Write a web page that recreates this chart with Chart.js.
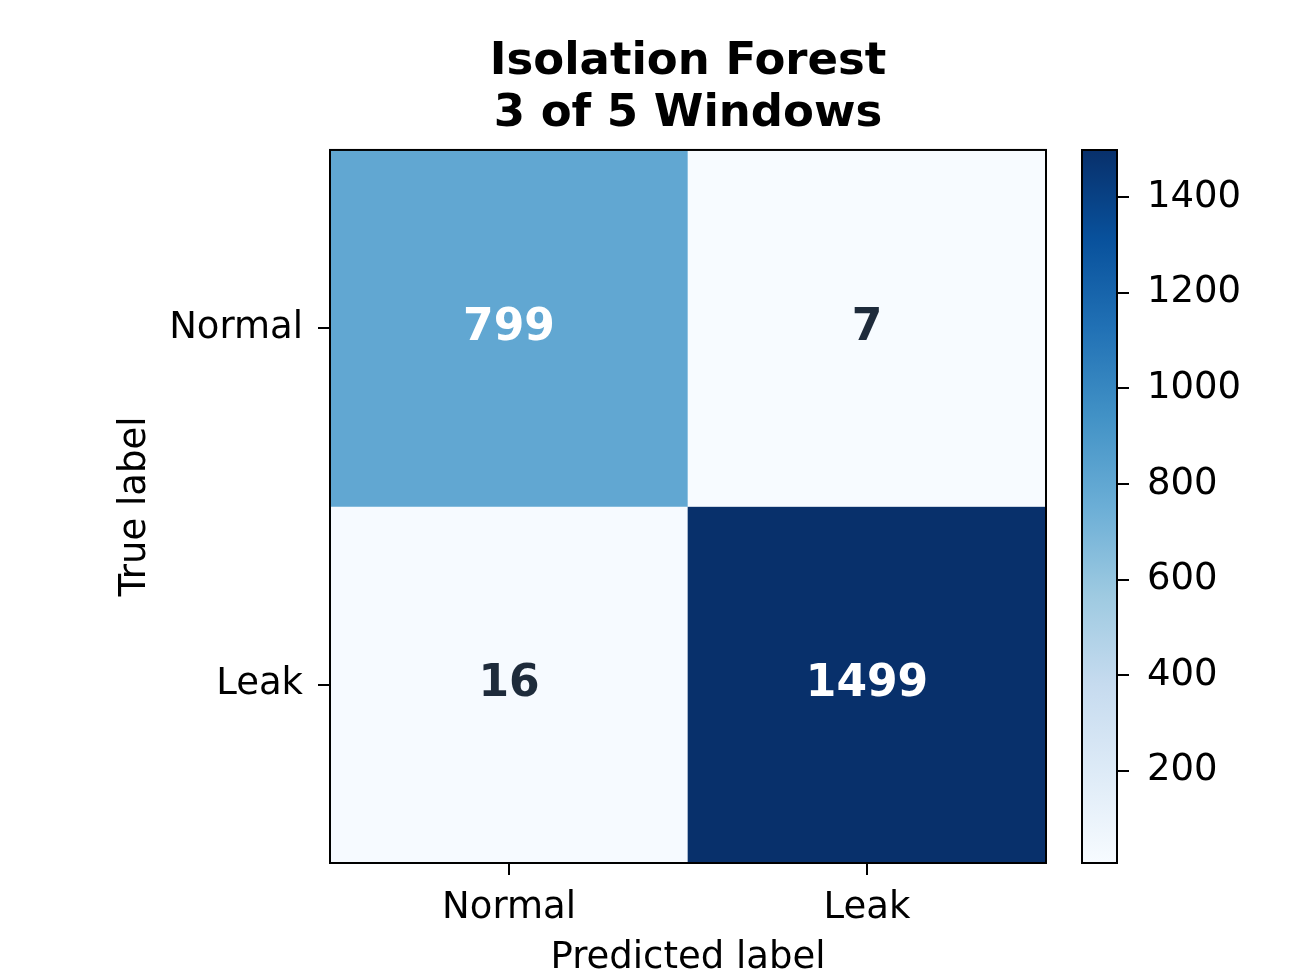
<!DOCTYPE html>
<html>
<head>
<meta charset="utf-8">
<script src="https://cdn.jsdelivr.net/npm/chart.js@4.4.0/dist/chart.umd.min.js"></script>
<style>
  html, body { margin: 0; padding: 0; background: #fff; overflow: hidden; }
  #wrap { position: relative; width: 1308px; height: 969px; }
  canvas { position: absolute; top: 0; }
</style>
</head>
<body>
<div id="wrap">
  <canvas id="cm" width="1308" height="1000" style="left:0"></canvas>
  <canvas id="cbar" width="238" height="1000" style="left:1070px"></canvas>
</div>
<script>
// confusion matrix data
const classes = ["Normal", "Leak"];
const row_normal = [799, 7];
const row_leak = [16, 1499];
const rows = [row_normal, row_leak];
const cbarTicks = [200, 400, 600, 800, 1000, 1200, 1400];
const titleLines = ["Isolation Forest", "3 of 5 Windows"];

const FONT = "'DejaVu Sans', sans-serif";
const vmin = Math.min(...rows.flat());
const vmax = Math.max(...rows.flat());

// matplotlib "Blues"
const blues = ["#f7fbff", "#deebf7", "#c6dbef", "#9ecae1", "#6baed6", "#4292c6", "#2171b5", "#08519c", "#08306b"];
function hex2rgb(h) { return [1, 3, 5].map(i => parseInt(h.substr(i, 2), 16)); }
function bluesAt(t) {
  t = Math.max(0, Math.min(1, t));
  const p = t * (blues.length - 1);
  const i = Math.min(Math.floor(p), blues.length - 2);
  const f = p - i;
  const a = hex2rgb(blues[i]), b = hex2rgb(blues[i + 1]);
  return "rgb(" + a.map((v, k) => Math.round(v + (b[k] - v) * f)).join(",") + ")";
}
function colorFor(v) { return bluesAt((v - vmin) / (vmax - vmin)); }

// black frame around the plot area
const framePlugin = {
  id: "frame",
  afterDraw(chart) {
    const a = chart.chartArea, ctx = chart.ctx;
    ctx.save();
    ctx.strokeStyle = "#000";
    ctx.lineWidth = 2;
    ctx.strokeRect(a.left, a.top, a.right - a.left, a.bottom - a.top);
    ctx.restore();
  }
};

// numbers in the cells
const cellText = {
  id: "cellText",
  afterDatasetsDraw(chart) {
    const ctx = chart.ctx;
    const thresh = (vmin + vmax) / 2;
    ctx.save();
    ctx.font = "bold 44px " + FONT;
    ctx.textAlign = "center";
    ctx.textBaseline = "middle";
    chart.data.datasets.forEach((ds, i) => {
      chart.getDatasetMeta(i).data.forEach((el, j) => {
        const v = rows[i][j];
        ctx.fillStyle = v > thresh ? "#ffffff" : "#1e2b3b";
        ctx.fillText(String(v), el.x, (el.y + el.base) / 2);
      });
    });
    ctx.restore();
  }
};

new Chart(document.getElementById("cm"), {
  type: "bar",
  data: {
    labels: classes,
    datasets: rows.map((r, i) => ({
      label: classes[i],
      data: r.map(() => [i - 0.5, i + 0.5]),
      backgroundColor: r.map(colorFor),
      borderWidth: 0,
      grouped: false,
      categoryPercentage: 1,
      barPercentage: 1
    }))
  },
  options: {
    responsive: false,
    animation: false,
    layout: { padding: { top: 0, right: 262, left: 0, bottom: 0 } },
    plugins: {
      legend: { display: false },
      tooltip: { enabled: false },
      title: {
        display: true,
        text: titleLines,
        fullSize: false,
        color: "#000",
        font: { family: FONT, size: 45, weight: "bold", lineHeight: 1.155 },
        padding: { top: 36, bottom: 10 }
      }
    },
    scales: {
      x: {
        type: "category",
        offset: true,
        grid: { display: true, drawOnChartArea: false, drawTicks: true, tickLength: 12, offset: false, color: "#000", lineWidth: 2 },
        border: { display: true, color: "#000", width: 2 },
        ticks: { color: "#000", font: { family: FONT, size: 37 }, padding: 11, maxRotation: 0 },
        title: { display: true, text: "Predicted label", color: "#000", font: { family: FONT, size: 37, lineHeight: 1.2 }, padding: { top: 0, bottom: 19 } },
        afterFit(s) { s.height = 137; }
      },
      y: {
        type: "linear",
        min: -0.5,
        max: 1.5,
        reverse: true,
        afterBuildTicks(s) { s.ticks = classes.map((c, i) => ({ value: i })); },
        grid: { display: true, drawOnChartArea: false, drawTicks: true, tickLength: 12, color: "#000", lineWidth: 2 },
        border: { display: true, color: "#000", width: 2 },
        ticks: { color: "#000", font: { family: FONT, size: 37 }, padding: 15, callback: v => classes[v] },
        title: { display: true, text: "True label", color: "#000", font: { family: FONT, size: 37, lineHeight: 1.2 }, padding: { top: 113, bottom: 0 } },
        afterFit(s) { s.width = 330; }
      }
    }
  },
  plugins: [framePlugin, cellText]
});

// colour bar
new Chart(document.getElementById("cbar"), {
  type: "bar",
  data: {
    labels: [""],
    datasets: [{
      data: [[vmin, vmax]],
      borderWidth: 0,
      categoryPercentage: 1,
      barPercentage: 1,
      backgroundColor(ctx) {
        const a = ctx.chart.chartArea;
        if (!a) return blues[4];
        const g = ctx.chart.ctx.createLinearGradient(0, a.bottom, 0, a.top);
        blues.forEach((c, i) => g.addColorStop(i / (blues.length - 1), c));
        return g;
      }
    }]
  },
  options: {
    responsive: false,
    animation: false,
    layout: { padding: { top: 150, left: 12, right: 0, bottom: 137 } },
    plugins: { legend: { display: false }, tooltip: { enabled: false } },
    scales: {
      x: { display: false },
      y: {
        position: "right",
        min: vmin,
        max: vmax,
        afterBuildTicks(s) { s.ticks = cbarTicks.map(v => ({ value: v })); },
        grid: { display: true, drawOnChartArea: false, drawTicks: true, tickLength: 12, color: "#000", lineWidth: 2 },
        border: { display: true, color: "#000", width: 2 },
        ticks: { color: "#000", font: { family: FONT, size: 37 }, padding: 18, callback: v => String(v) },
        afterFit(s) { s.width = 238 - 12 - 35; }
      }
    }
  },
  plugins: [framePlugin]
});
</script>
</body>
</html>
